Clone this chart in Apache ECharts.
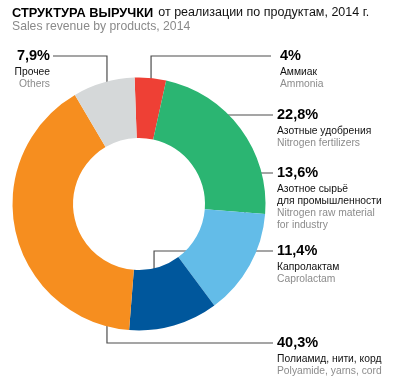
<!DOCTYPE html>
<html><head><meta charset="utf-8">
<script src="https://cdn.jsdelivr.net/npm/echarts@6/dist/echarts.min.js"></script>
<style>html,body{margin:0;padding:0;background:#fff}#c{width:398px;height:384px}</style>
</head><body><div id="c"></div>
<script>
const namesRu = ['Аммиак', 'Азотные удобрения', 'Азотное сырьё\nдля промышленности', 'Капролактам', 'Полиамид, нити, корд', 'Прочее'];
const namesEn = ['Ammonia', 'Nitrogen fertilizers', 'Nitrogen raw material\nfor industry', 'Caprolactam', 'Polyamide, yarns, cord', 'Others'];
const values = [4, 22.8, 13.6, 11.4, 40.3, 7.9];
const colors = ['#EE4035', '#2BB572', '#63BCE8', '#00579C', '#F68E1F', '#D5D8D9'];

// leader-line layout (annotation geometry): anchor in polar coords around pie centre
const CX = 139, CY = 204;
const leader = [
  { ang: 6.2,   r: 111.6, lineY: 56,  side: 'right', endX: 271, textX: 280 },
  { ang: 41.2,  r: 118.3, lineY: 115, side: 'right', endX: 273, textX: 277 },
  { ang: 103.8, r: 109.1, lineY: 173, side: 'right', endX: 273, textX: 277 },
  { ang: 171.1, r: 97.2,  lineY: 251, side: 'right', endX: 273, textX: 277 },
  { ang: 198.1, r: 103.1, lineY: 343, side: 'right', endX: 273, textX: 277 },
  { ang: -16.1, r: 115.5, lineY: 56,  side: 'left',  endX: 53,  textX: 50 }
];

function fmtPct(v) {
  return (Number.isInteger(v) ? String(v) : v.toFixed(1).replace('.', ',')) + '%';
}
function rich(style, s) {
  return s.split('\n').map(t => '{' + style + '|' + t + '}').join('\n');
}

const chart = echarts.init(document.getElementById('c'), null, { renderer: 'canvas' });
chart.setOption({
  animation: false,
  title: {
    left: 12, top: 4, padding: 0,
    text: '{b|СТРУКТУРА ВЫРУЧКИ} {n|от реализации по продуктам, 2014 г.}',
    subtext: 'Sales revenue by products, 2014',
    itemGap: -2,
    textStyle: {
      fontWeight: 'normal',
      rich: {
        b: { fontFamily: 'Liberation Sans', fontWeight: 'bold', fontSize: 12.8, color: '#000', lineHeight: 15 },
        n: { fontFamily: 'Liberation Sans', fontWeight: 'normal', fontSize: 12.5, color: '#111', lineHeight: 15 }
      }
    },
    subtextStyle: { fontFamily: 'Liberation Sans', fontSize: 12.2, color: '#8a8a8a', lineHeight: 13 }
  },
  series: [{
    type: 'pie',
    center: [CX, CY],
    radius: [66, 126.5],
    startAngle: 92,
    clockwise: true,
    avoidLabelOverlap: false,
    itemStyle: { borderWidth: 0 },
    emphasis: { disabled: true },
    data: values.map((v, i) => ({ value: v, name: namesEn[i], itemStyle: { color: colors[i] } })),
    label: {
      show: true,
      position: 'outside',
      formatter: p => {
        const i = p.dataIndex;
        return '{p|' + fmtPct(values[i]) + '}\n' + rich('r', namesRu[i]) + '\n' + rich('e', namesEn[i]);
      },
      rich: {
        p: { fontFamily: 'Liberation Sans', fontWeight: 'bold', fontSize: 14.5, color: '#000', lineHeight: 19 },
        r: { fontFamily: 'Liberation Sans', fontSize: 10.3, color: '#111', lineHeight: 12.5 },
        e: { fontFamily: 'Liberation Sans', fontSize: 10.3, color: '#8c8c8c', lineHeight: 12 }
      }
    },
    labelLine: { show: true, smooth: false, lineStyle: { color: '#4d4d4d', width: 1.2 } },
    labelLayout: params => {
      const L = leader[params.dataIndex];
      const a = L.ang * Math.PI / 180;
      const ax = CX + L.r * Math.sin(a), ay = CY - L.r * Math.cos(a);
      let elbow;
      if (Math.abs(ay - L.lineY) < 1) elbow = [(ax + L.endX) / 2, L.lineY];
      else elbow = [ax, L.lineY];
      return {
        x: L.textX,
        y: L.lineY - 9.5,
        align: L.side === 'left' ? 'right' : 'left',
        verticalAlign: 'top',
        labelLinePoints: [[ax, ay], elbow, [L.endX, L.lineY]]
      };
    }
  }]
});
</script></body></html>
